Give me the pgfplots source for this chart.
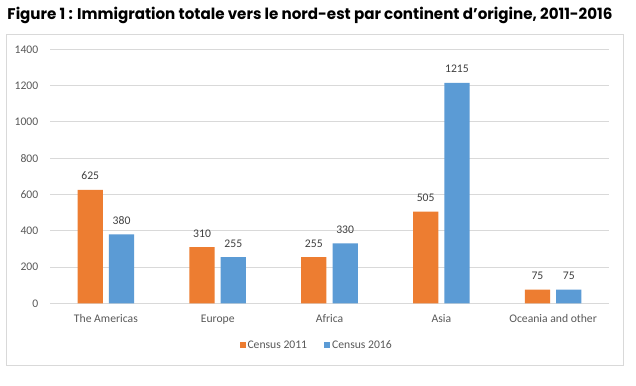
\documentclass[border=0pt]{standalone}
\usepackage{pgfplots}
\pgfplotsset{compat=1.18}
\usepackage{fontspec}
\usepackage{graphicx}
\setmainfont{Carlito}
\newfontfamily\titlefont{Poppins}
\definecolor{corange}{HTML}{ED7D31}
\definecolor{cblue}{HTML}{5B9BD5}
\definecolor{gridgray}{HTML}{D9D9D9}
\definecolor{ticktext}{HTML}{595959}
\definecolor{labeltext}{HTML}{404040}
\begin{document}
\begin{tikzpicture}
\path[use as bounding box] (0,0) rectangle (636bp,386bp);
\fill[white] (0,0) rectangle (636bp,386bp);
\draw[color=gridgray, line width=0.75bp] (6.3bp,20.7bp) rectangle (623.3bp,352bp);
\node[anchor=base west, inner sep=0] at (7.3bp,366bp)
  {\resizebox{605bp}{\height}{\titlefont\bfseries\fontsize{15.5}{18}\selectfont Figure 1 : Immigration totale vers le nord-est par continent d’origine, 2011-2016}};
\begin{axis}[
  at={(50bp,82.7bp)}, anchor=south west,
  scale only axis, width=559bp, height=254bp,
  xmin=-0.5, xmax=4.5, ymin=0, ymax=1400,
  ytick={0,200,...,1400},
  xtick={0,1,2,3,4},
  xticklabels={The Americas,Europe,Africa,Asia,Oceania and other},
  /pgf/number format/.cd, 1000 sep={}, assume math mode=true, /pgfplots/.cd,
  axis line style={draw=none},
  ymajorgrids, grid style={gridgray, line width=0.75bp},
  major tick length=0pt,
  tick style={draw=none},
  ticklabel style={font=\fontsize{11.7}{13}\selectfont, text=ticktext, inner sep=0pt},
  yticklabel style={anchor=east, xshift=-11.5bp},
  xticklabel style={anchor=base, yshift=-19.4bp},
  ybar, bar width=0.226,
  nodes near coords,
  every node near coord/.append style={font=\fontsize{11.7}{13}\selectfont, text=labeltext, anchor=base, inner sep=0pt, yshift=10bp},
  legend columns=2,
  legend style={at={(0.477,-0.166)}, anchor=center, draw=none, fill=none,
    font=\fontsize{11.7}{13}\selectfont, text=ticktext, inner sep=0pt,
    /tikz/every even column/.append style={column sep=15bp}},
  legend image code/.code={\fill (0bp,-3bp) rectangle (6bp,3bp);},
  legend cell align=left,
]
\addplot[fill=corange, draw=none, bar shift=-0.14] coordinates {(0,625) (1,310) (2,255) (3,505) (4,75)};
\addlegendentry{Census 2011}
\addplot[fill=cblue, draw=none, bar shift=0.14] coordinates {(0,380) (1,255) (2,330) (3,1215) (4,75)};
\addlegendentry{Census 2016}
\end{axis}
\end{tikzpicture}
\end{document}
